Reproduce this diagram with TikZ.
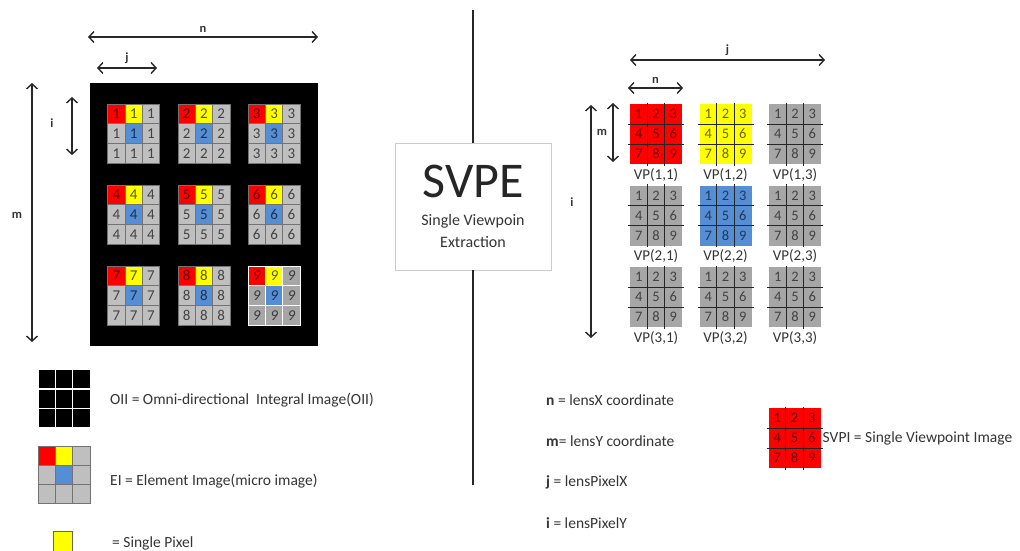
\documentclass[tikz,border=0pt]{standalone}
\usepackage{fontspec}
\setmainfont{Carlito}
\usepackage{xcolor}
\usetikzlibrary{arrows.meta, positioning, calc}

\definecolor{pixred}{RGB}{255,0,0}
\definecolor{pixyellow}{RGB}{255,255,0}
\definecolor{pixblue}{RGB}{85,142,213}
\definecolor{pixgray}{RGB}{191,191,191}
\definecolor{vpgray}{RGB}{166,166,166}
\definecolor{txtgray}{RGB}{52,52,52}
\definecolor{arrgray}{RGB}{40,40,40}

\begin{document}
\begin{tikzpicture}[
    x=1pt, y=-1pt,
    pix/.style={draw=black!55, line width=0.6pt, minimum width=17.3pt, minimum height=19.7pt,
      inner sep=0pt, font=\fontsize{15}{15}\selectfont, text=black, text opacity=0.65},
    keycell/.style={line width=0.8pt, minimum width=17.3pt, minimum height=19pt, inner sep=0pt},
    vpbox/.style={minimum width=52pt, minimum height=60pt, inner sep=0pt, outer sep=0pt},
    vpline/.style={line width=0.9pt, draw=black!85},
    vpnum/.style={inner sep=0pt, font=\fontsize{14.5}{15}\selectfont, text=black, text opacity=0.6},
    vplab/.style={font=\fontsize{15}{15}\selectfont, text=txtgray, inner sep=1pt},
    arr/.style={{Straight Barb[length=5pt,width=11pt]}-{Straight Barb[length=5pt,width=11pt]},
      line width=1.4pt, draw=arrgray},
    dimlab/.style={font=\bfseries\fontsize{12.5}{13}\selectfont, text=txtgray, inner sep=1pt},
    legend/.style={anchor=west, font=\fontsize{15.5}{17}\selectfont, text=txtgray, inner sep=0pt},
    divline/.style={line width=1.8pt, draw=black!85},
    pics/vpgrid/.style={code={
      \node[vpbox, fill=#1] (-box) at (0,0) {};
      \foreach \t in {1,2} {
        \draw[vpline] (-26+17.33*\t,-31.5) -- (-26+17.33*\t,31.5);
        \draw[vpline] (-28,-30+20*\t) -- (28,-30+20*\t);
      }
      \foreach \d in {1,...,9} {
        \pgfmathtruncatemacro\dr{div(\d-1,3)}
        \pgfmathtruncatemacro\dc{mod(\d-1,3)}
        \node[vpnum] (-d\d) at ({-17.33+17.33*\dc},{-20+20*\dr}) {\d};
      }
    }}
  ]
  \useasboundingbox (0,0) rectangle (1020,551);

  % Omni-directional integral image
  \node[fill=black, minimum width=228pt, minimum height=263pt, inner sep=0pt] (oii) at (204,214.5) {};
  \foreach \k in {1,...,9} {
    \pgfmathtruncatemacro\gc{mod(\k-1,3)}
    \pgfmathtruncatemacro\gr{div(\k-1,3)}
    \pgfmathsetmacro\gx{107.7+70.2*\gc}
    \pgfmathsetmacro\gy{104+81*\gr}
    \ifnum\k=9
      \colorlet{cellgray}{vpgray}\def\gline{white}\def\gfont{\itshape}
    \else
      \colorlet{cellgray}{pixgray}\def\gline{black!55}\def\gfont{\upshape}
    \fi
    \foreach \r/\c/\col in {0/0/pixred,0/1/pixyellow,0/2/cellgray,
                            1/0/cellgray,1/1/pixblue,1/2/cellgray,
                            2/0/cellgray,2/1/cellgray,2/2/cellgray}
      \node[pix, draw=\gline, fill=\col] (e\k-\r\c) at ({\gx+17.3*\c+8.65},{\gy+19.7*\r+9.85}) {\gfont\k};
  }

  % dimensions, left
  \coordinate (nL) at (88,37);
  \coordinate (nR) at (318,37);
  \draw[arr] (nL) -- node[dimlab, above=3pt] (nlab) {n} (nR);
  \coordinate (jL) at (97,68);
  \coordinate (jR) at (157,68);
  \draw[arr] (jL) -- node[dimlab, above=3pt] (jlab) {j} (jR);
  \coordinate (mT) at (32,83);
  \coordinate (mB) at (32,342);
  \draw[arr] (mT) -- (mB);
  \node[dimlab] (mlab) at (17,215) {m};
  \coordinate (iT) at (72,97);
  \coordinate (iB) at (72,155);
  \draw[arr] (iT) -- (iB);
  \node[dimlab] (ilab) at (52,123) {i};

  % SVPE box and divider
  \node[draw=black!20, line width=0.8pt, minimum width=156pt, minimum height=127pt, inner sep=0pt] (svpe) at (473,206.5) {};
  \node[font=\fontsize{50}{50}\selectfont, text=black!85] (svpet) at (473,181) {SVPE};
  \node[font=\fontsize{16}{22}\selectfont, text=txtgray, align=center] (svpes) at (473,231) {Single Viewpoin\\Extraction};
  \coordinate (divtop) at (473,10);
  \coordinate (divbot) at (473,485);
  \draw[divline] (divtop) -- (svpe.north);
  \draw[divline] (svpe.south) -- (divbot);

  % viewpoint images
  \foreach \r/\c/\col in {1/1/pixred,1/2/pixyellow,1/3/vpgray,
                          2/1/vpgray,2/2/pixblue,2/3/vpgray,
                          3/1/vpgray,3/2/vpgray,3/3/vpgray} {
    \pgfmathsetmacro\vx{656+69.5*(\c-1)}
    \pgfmathsetmacro\vy{134+81.5*(\r-1)}
    \pic (vp\r\c) at (\vx,\vy) {vpgrid=\col};
    \node[vplab, below=3pt of vp\r\c-box] (vl\r\c) {VP(\r,\c)};
  }

  % dimensions, right
  \coordinate (rjL) at (630,60);
  \coordinate (rjR) at (825,60);
  \draw[arr] (rjL) -- node[dimlab, above=3pt] (rjlab) {j} (rjR);
  \coordinate (rnL) at (628,88);
  \coordinate (rnR) at (683,88);
  \draw[arr] (rnL) -- node[dimlab, above=3pt] (rnlab) {n} (rnR);
  \coordinate (riT) at (591,105);
  \coordinate (riB) at (591,338);
  \draw[arr] (riT) -- (riB);
  \node[dimlab] (rilab) at (572,202) {i};
  \coordinate (rmT) at (613,103);
  \coordinate (rmB) at (613,162);
  \draw[arr] (rmT) -- (rmB);
  \node[dimlab] (rmlab) at (602,132) {m};

  % key, left
  \foreach \r in {0,1,2}
    \foreach \c in {0,1,2}
      \node[keycell, fill=black, draw=white] (ok\r\c) at ({38+17.3*\c+8.65},{369+19.7*\r+9.85}) {};
  \node[legend] (oiitxt) at (110,400) {OII = Omni-directional\ \ Integral Image(OII)};
  \foreach \r/\c/\col in {0/0/pixred,0/1/pixyellow,0/2/pixgray,
                          1/0/pixgray,1/1/pixblue,1/2/pixgray,
                          2/0/pixgray,2/1/pixgray,2/2/pixgray}
    \node[keycell, fill=\col, draw=black!55] (ek\r\c) at ({38+17.3*\c+8.65},{447+18.7*\r+9.35}) {};
  \node[legend] (eitxt) at (110,481) {EI = Element Image(micro image)};
  \node[fill=pixyellow, draw=black!60, line width=0.8pt, minimum width=19pt, minimum height=22pt, inner sep=0pt] (pixkey) at (62.5,542) {};
  \node[legend] (pixtxt) at (112,543) {= Single Pixel};

  % key, right
  \node[legend] (ntxt) at (546,400) {\textbf{n} = lensX coordinate};
  \node[legend] (mtxt) at (546,441) {\textbf{m}= lensY coordinate};
  \node[legend] (jtxt) at (546,482) {\textbf{j} = lensPixelX};
  \node[legend] (itxt) at (546,523) {\textbf{i} = lensPixelY};
  \pic (svpi) at (794.5,438) {vpgrid=pixred};
  \node[legend, right=2pt of svpi-box] (svpitxt) {SVPI = Single Viewpoint Image};
\end{tikzpicture}
\end{document}
